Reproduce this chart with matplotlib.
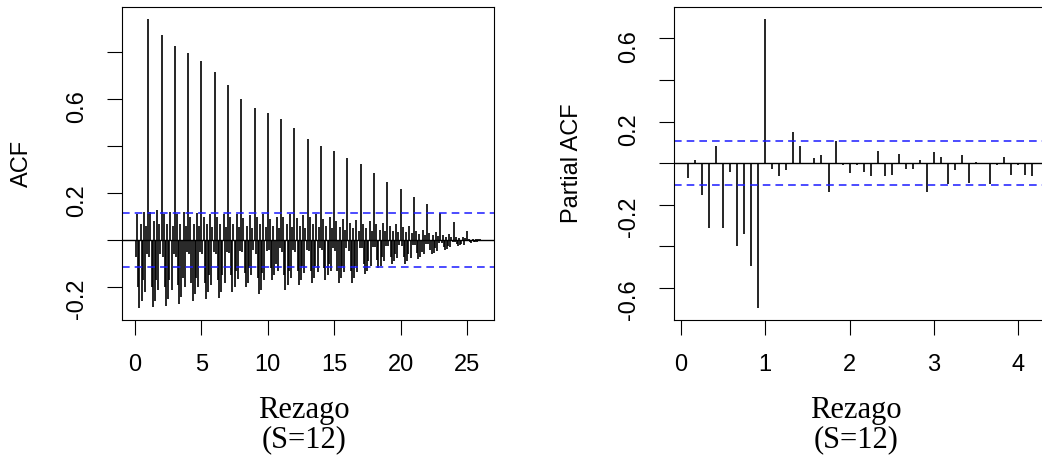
import numpy as np
import matplotlib.pyplot as plt

S = 12

# ACF, one row per season (lags 12k+1 ... 12k+12)
acf_rows = [
    [-0.07, 0.11, -0.20, -0.29, 0.07, -0.26, -0.17, 0.12, -0.22, 0.06, -0.06, 0.942],
    [-0.07, 0.12, -0.20, -0.285, 0.08, -0.26, -0.17, 0.13, -0.21, 0.07, -0.06, 0.872],
    [-0.07, 0.11, -0.20, -0.28, 0.07, -0.25, -0.17, 0.12, -0.21, 0.06, -0.06, 0.826],
    [-0.07, 0.11, -0.19, -0.27, 0.07, -0.24, -0.16, 0.12, -0.20, 0.06, -0.05, 0.794],
    [-0.06, 0.10, -0.18, -0.26, 0.07, -0.23, -0.16, 0.115, -0.20, 0.06, -0.05, 0.762],
    [-0.06, 0.10, -0.18, -0.25, 0.07, -0.22, -0.15, 0.11, -0.19, 0.055, -0.05, 0.716],
    [-0.06, 0.10, -0.17, -0.245, 0.07, -0.22, -0.15, 0.11, -0.18, 0.055, -0.05, 0.658],
    [-0.055, 0.10, -0.15, -0.22, 0.07, -0.20, -0.13, 0.11, -0.165, 0.055, -0.045, 0.601],
    [-0.05, 0.095, -0.14, -0.20, 0.06, -0.18, -0.12, 0.105, -0.15, 0.05, -0.04, 0.562],
    [-0.06, 0.10, -0.16, -0.23, 0.07, -0.21, -0.14, 0.11, -0.17, 0.055, -0.045, 0.540],
    [-0.04, 0.09, -0.12, -0.17, 0.06, -0.15, -0.10, 0.10, -0.13, 0.05, -0.035, 0.516],
    [-0.05, 0.10, -0.15, -0.21, 0.07, -0.19, -0.13, 0.11, -0.16, 0.055, -0.04, 0.478],
    [-0.05, 0.095, -0.13, -0.19, 0.06, -0.17, -0.11, 0.105, -0.14, 0.05, -0.04, 0.431],
    [-0.045, 0.10, -0.13, -0.18, 0.07, -0.16, -0.11, 0.11, -0.135, 0.055, -0.035, 0.401],
    [-0.04, 0.09, -0.12, -0.17, 0.06, -0.15, -0.10, 0.10, -0.13, 0.05, -0.035, 0.377],
    [-0.045, 0.08, -0.13, -0.18, 0.055, -0.16, -0.11, 0.09, -0.135, 0.045, -0.035, 0.350],
    [-0.045, 0.075, -0.13, -0.18, 0.05, -0.16, -0.11, 0.085, -0.135, 0.04, -0.035, 0.325],
    [-0.035, 0.07, -0.10, -0.145, 0.05, -0.13, -0.09, 0.08, -0.11, 0.04, -0.03, 0.285],
    [-0.03, 0.07, -0.085, -0.12, 0.045, -0.11, -0.07, 0.075, -0.09, 0.04, -0.025, 0.247],
    [-0.025, 0.06, -0.07, -0.10, 0.04, -0.09, -0.06, 0.07, -0.075, 0.035, -0.02, 0.216],
    [-0.025, 0.055, -0.07, -0.10, 0.035, -0.09, -0.06, 0.06, -0.075, 0.03, -0.02, 0.182],
    [-0.02, 0.04, -0.055, -0.08, 0.027, -0.07, -0.05, 0.045, -0.06, 0.022, -0.016, 0.152],
    [-0.015, 0.03, -0.04, -0.06, 0.02, -0.055, -0.035, 0.035, -0.045, 0.018, -0.012, 0.115],
    [-0.01, 0.022, -0.028, -0.04, 0.015, -0.036, -0.024, 0.025, -0.03, 0.012, -0.008, 0.079],
    [-0.006, 0.013, -0.018, -0.025, 0.009, -0.022, -0.015, 0.015, -0.019, 0.008, -0.005, 0.040],
    [-0.003, 0.005, -0.007, -0.01, 0.004, -0.009, -0.006, 0.006, -0.008, 0.003, -0.002, 0.007],
]

pacf_vals = [
    -0.071, 0.016, -0.151, -0.311, 0.082, -0.311, -0.042, -0.400, -0.342, -0.493,
    -0.698, 0.695, -0.027, -0.064, -0.034, 0.148, 0.083, 0.003, 0.024, 0.039,
    -0.138, 0.108, -0.011, -0.048, -0.011, -0.042, -0.064, 0.059, -0.064, -0.055,
    0.045, -0.027, -0.027, 0.016, -0.138, 0.053, 0.032, -0.100, -0.034, 0.039,
    -0.093, 0.004, -0.003, -0.100, -0.011, 0.032, -0.056, -0.011, -0.056, -0.064,
]

acf_band = 0.114
pacf_band = 0.107

acf_ticks = [-0.2, 0.0, 0.2, 0.4, 0.6, 0.8]
acf_ticklabels = ['-0.2', '', '0.2', '', '0.6', '']
pacf_ticks = [-0.6, -0.4, -0.2, 0.0, 0.2, 0.4, 0.6]
pacf_ticklabels = ['-0.6', '', '-0.2', '', '0.2', '', '0.6']

acf_vals = np.array(acf_rows).ravel()
pacf_vals = np.array(pacf_vals)
acf_lags = np.arange(1, len(acf_vals) + 1) / S
pacf_lags = np.arange(1, len(pacf_vals) + 1) / S

plt.rcParams['font.family'] = ['Liberation Sans', 'DejaVu Sans']


def r_corr_plot(ax, lags, vals, band, ticks, ticklabels, xticks):
    ax.vlines(lags, 0, vals, color='black', lw=1.2)
    ax.axhline(0, color='black', lw=1.0)
    for b in (band, -band):
        ax.axhline(b, color='#1a1aff', lw=1.1, linestyle=(0, (5, 3.3)))
    lo = min(vals.min(), -band)
    hi = max(vals.max(), band)
    pad = 0.04 * (hi - lo)
    ax.set_ylim(lo - pad, hi + pad)
    xpad = 0.04 * (lags[-1] - lags[0])
    ax.set_xlim(lags[0] - xpad, lags[-1] + xpad)
    ax.set_yticks(ticks)
    ax.set_yticklabels(ticklabels)
    ax.set_xticks(xticks)
    ax.set_xticklabels([str(t) for t in xticks])
    ax.tick_params(direction='out', length=10.5, width=0.8, labelsize=17, pad=14)
    ax.tick_params(axis='y', labelrotation=90)
    for sp in ax.spines.values():
        sp.set_linewidth(0.8)


fig = plt.figure(figsize=(10.42, 4.62), dpi=100)
ax1 = fig.add_axes([0.1174, 0.3074, 0.3567, 0.6775])
ax2 = fig.add_axes([0.6471, 0.3074, 0.3567, 0.6775])

r_corr_plot(ax1, acf_lags, acf_vals, acf_band, acf_ticks, acf_ticklabels, [0, 5, 10, 15, 20, 25])
r_corr_plot(ax2, pacf_lags, pacf_vals, pacf_band, pacf_ticks, pacf_ticklabels, [0, 1, 2, 3, 4])

fig.text(22 / 1042, 1 - 163.5 / 462, 'ACF', rotation=90, ha='center', va='center', fontsize=17)
fig.text(572 / 1042, 1 - 163.5 / 462, 'Partial ACF', rotation=90, ha='center', va='center', fontsize=17)

for xc in (304, 856):
    fig.text(xc / 1042, 1 - 396 / 462, 'Rezago\n(S=12)', family='Liberation Serif',
             fontsize=22, ha='center', va='top', linespacing=1.0)

fig.savefig('out.png', dpi=100)
